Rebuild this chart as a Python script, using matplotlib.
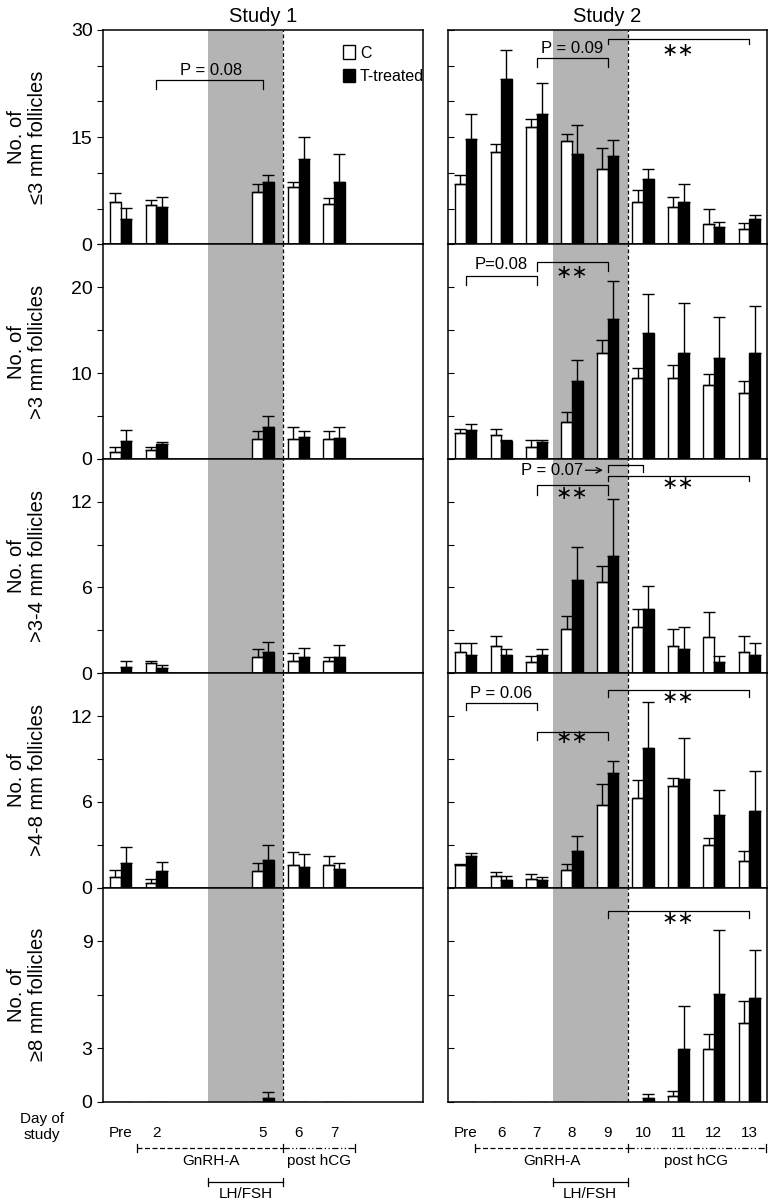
import numpy as np
import matplotlib
matplotlib.use('Agg')
import matplotlib.pyplot as plt
from matplotlib.patches import Patch

plt.rcParams['font.family'] = ['Liberation Sans', 'DejaVu Sans']

# days shown on the x axis of each study
days_s1 = ['Pre', '2', '5', '6', '7']
days_s2 = ['Pre', '6', '7', '8', '9', '10', '11', '12', '13']

row_labels = ['No. of\n≤3 mm follicles', 'No. of\n>3 mm follicles',
              'No. of\n>3-4 mm follicles', 'No. of\n>4-8 mm follicles',
              'No. of\n≥8 mm follicles']

# Study 1 means / SEM (C = control, T = T-treated)
s1_c = [[6.0, 5.5, 7.3, 8.1, 5.7],
        [0.8, 1.0, 2.3, 2.3, 2.3],
        [0.0, 0.7, 1.15, 0.85, 0.85],
        [0.75, 0.35, 1.15, 1.58, 1.58],
        [0, 0, 0, 0, 0]]
s1_c_err = [[1.2, 0.7, 1.2, 0.7, 0.8],
            [0.6, 0.4, 0.9, 1.4, 0.9],
            [0, 0.15, 0.55, 0.55, 0.25],
            [0.5, 0.28, 0.55, 0.9, 0.66],
            [0, 0, 0, 0, 0]]
s1_t = [[3.6, 5.2, 8.8, 12.0, 8.8],
        [2.1, 1.7, 3.7, 2.5, 2.4],
        [0.45, 0.33, 1.45, 1.1, 1.1],
        [1.7, 1.15, 1.93, 1.46, 1.3],
        [0, 0, 0.2, 0, 0]]
s1_t_err = [[1.5, 1.5, 0.9, 3.0, 3.9],
            [1.3, 0.3, 1.3, 0.7, 1.3],
            [0.4, 0.22, 0.7, 0.65, 0.9],
            [1.15, 0.62, 1.07, 0.87, 0.4],
            [0, 0, 0.35, 0, 0]]

# Study 2 means / SEM
s2_c = [[8.5, 12.9, 16.4, 14.4, 10.5, 5.9, 5.3, 2.9, 2.1],
        [3.0, 2.8, 1.4, 4.3, 12.3, 9.4, 9.4, 8.6, 7.7],
        [1.5, 1.9, 0.8, 3.1, 6.4, 3.2, 1.9, 2.5, 1.5],
        [1.57, 0.84, 0.63, 1.26, 5.77, 6.24, 7.1, 2.97, 1.85],
        [0, 0, 0, 0, 0, 0, 0.32, 2.97, 4.42]]
s2_c_err = [[1.2, 1.1, 1.2, 1.1, 3.0, 1.7, 1.4, 2.1, 0.9],
            [0.5, 0.7, 0.8, 1.1, 1.6, 1.2, 1.5, 1.3, 1.4],
            [0.6, 0.7, 0.4, 0.9, 1.1, 1.3, 1.2, 1.8, 1.1],
            [0.11, 0.26, 0.3, 0.42, 1.47, 1.26, 0.59, 0.51, 0.7],
            [0, 0, 0, 0, 0, 0, 0.29, 0.83, 1.24]]
s2_t = [[14.7, 23.2, 18.2, 12.7, 12.3, 9.2, 5.9, 2.4, 3.5],
        [3.3, 2.1, 2.0, 9.1, 16.3, 14.7, 12.3, 11.8, 12.3],
        [1.3, 1.3, 1.3, 6.5, 8.2, 4.5, 1.7, 0.8, 1.3],
        [2.2, 0.5, 0.51, 2.57, 8.0, 9.74, 7.57, 5.07, 5.37],
        [0, 0, 0, 0, 0, 0.2, 2.97, 6.05, 5.8]]
s2_t_err = [[3.5, 4.0, 4.4, 4.0, 2.3, 1.3, 2.6, 0.8, 0.6],
            [0.8, 0.1, 0.2, 2.4, 4.4, 4.5, 5.9, 4.7, 5.5],
            [0.8, 0.4, 0.4, 2.3, 4.0, 1.6, 1.5, 0.4, 0.8],
            [0.23, 0.3, 0.24, 1.03, 0.86, 3.23, 2.87, 1.75, 2.76],
            [0, 0, 0, 0, 0, 0.26, 2.43, 3.55, 2.7]]

# y axis of each row: top, tick step, labelled ticks
y_tops = [30, 25, 15, 15, 12]
y_steps = [5, 5, 3, 3, 3]
y_labelled = [[0, 15, 30], [0, 10, 20], [0, 6, 12], [0, 6, 12], [0, 3, 9]]

SHADE = (2.45, 4.57)   # LH/FSH window, in day slots
BW = 0.3


def slots(days, first):
    # Pre sits in slot 0, later days one slot per day
    return np.array([0 if d == 'Pre' else int(d) - first + 1 for d in days], float)


def bars(ax, x, c, ce, t, te):
    c, ce, t, te = map(np.asarray, (c, ce, t, te))
    ax.bar(x - BW / 2, c, BW, color='white', edgecolor='black', lw=1, zorder=2)
    ax.bar(x + BW / 2, t, BW, color='black', edgecolor='black', lw=1, zorder=2)
    for xx, m, e in ((x - BW / 2, c, ce), (x + BW / 2, t, te)):
        keep = (m > 0) | (e > 0)
        ax.errorbar(xx[keep], m[keep], yerr=[np.zeros(keep.sum()), e[keep]],
                    fmt='none', ecolor='black', elinewidth=1, capsize=4,
                    capthick=1, zorder=3)


def bracket(ax, x1, x2, y, drop, label=None, tx=None, ty=None, size=12):
    ax.plot([x1, x1, x2, x2], [y - drop, y, y, y - drop], color='black',
            lw=0.9, zorder=4)
    if label:
        ax.text(tx, ty, label, ha='center', va='center', fontsize=size, zorder=5)


fig = plt.figure(figsize=(7.68, 12), dpi=100)
W, H = 768., 1200.
top_px, row_px = 30., 214.4
x1 = slots(days_s1, 2)
x2 = slots(days_s2, 6)

axes = []
for r in range(5):
    b = (H - (top_px + (r + 1) * row_px)) / H
    axl = fig.add_axes([103 / W, b, 320 / W, row_px / H])
    axr = fig.add_axes([448 / W, b, 319 / W, row_px / H])
    bars(axl, x1, s1_c[r], s1_c_err[r], s1_t[r], s1_t_err[r])
    bars(axr, x2, s2_c[r], s2_c_err[r], s2_t[r], s2_t_err[r])
    ticks = np.arange(0, y_tops[r] + 0.01, y_steps[r])
    for ax in (axl, axr):
        ax.set_xlim(-0.5, 8.5)
        ax.set_ylim(0, y_tops[r])
        ax.axvspan(*SHADE, color='#b4b4b4', lw=0, zorder=0)
        ax.axvline(SHADE[1], color='black', lw=0.9, ls=(0, (3, 2)), zorder=3)
        ax.set_yticks(ticks)
        for s in ax.spines.values():
            s.set_linewidth(1.1)
    axl.set_yticklabels([('%d' % v) if v in y_labelled[r] else '' for v in ticks],
                        fontsize=14)
    axl.tick_params(axis='y', direction='out', length=4, width=0.8)
    axr.tick_params(axis='y', direction='in', length=4, width=0.8, labelleft=False)
    axl.text((27 - 103) / 320, 0.5, row_labels[r], transform=axl.transAxes,
             rotation=90, ha='center', va='center', fontsize=14.5,
             multialignment='center', linespacing=1.15)
    if r < 4:
        axl.set_xticks([])
        axr.set_xticks([])
    else:
        axl.set_xticks(x1)
        axl.set_xticklabels(days_s1, fontsize=11)
        axr.set_xticks(x2)
        axr.set_xticklabels(days_s2, fontsize=11)
        for ax in (axl, axr):
            ax.tick_params(axis='x', length=0, pad=17)
    axes.append((axl, axr))

axes[0][0].set_title('Study 1', fontsize=14.5, pad=6)
axes[0][1].set_title('Study 2', fontsize=14.5, pad=6)

axes[0][0].legend(handles=[Patch(facecolor='white', edgecolor='black', label='C'),
                           Patch(facecolor='black', edgecolor='black', label='T-treated')],
                  loc='upper left', bbox_to_anchor=(0.725, 0.965), frameon=False,
                  handlelength=0.75, handleheight=0.9, handletextpad=0.3,
                  labelspacing=0.5, borderpad=0, fontsize=11.5)

# significance brackets
star = '∗∗'
bracket(axes[0][0], 1, 4, 23.0, 1.3, 'P = 0.08', 2.55, 24.4)

bracket(axes[0][1], 2, 4, 26.1, 1.3, 'P = 0.09', 3.0, 27.4)
bracket(axes[0][1], 4, 8, 28.8, 0.8, star, 6.0, 27.0, 14)

bracket(axes[1][1], 0, 2, 21.3, 1.0, 'P=0.08', 1.0, 22.6)
bracket(axes[1][1], 2, 4, 23.0, 1.1, star, 3.0, 21.6, 14)

bracket(axes[2][1], 2, 4, 13.2, 0.7, star, 3.0, 12.5, 14)
bracket(axes[2][1], 4, 8, 13.8, 0.35, star, 6.0, 13.2, 14)
bracket(axes[2][1], 4, 5, 14.6, 0.5)
axes[2][1].annotate('', xy=(3.95, 14.2), xytext=(3.3, 14.2),
                    arrowprops=dict(arrowstyle='->', lw=0.9, color='black'))
axes[2][1].text(3.3, 14.2, 'P = 0.07', ha='right', va='center', fontsize=12)

bracket(axes[3][1], 0, 2, 12.9, 0.5, 'P = 0.06', 1.0, 13.6)
bracket(axes[3][1], 2, 4, 10.9, 0.6, star, 3.0, 10.4, 14)
bracket(axes[3][1], 4, 8, 13.8, 0.5, star, 6.0, 13.2, 14)

bracket(axes[4][1], 4, 8, 10.7, 0.4, star, 6.0, 10.2, 14)

# treatment periods under the bottom row
yl = -46 / row_px
yh = -80 / row_px
cap = 4 / row_px
for ax, start, end, gx, px in ((axes[4][0], 0.46, 6.6, 2.54, 5.58),
                               (axes[4][1], 0.26, 8.46, 2.43, 6.5)):
    tr = ax.get_xaxis_transform()
    kw = dict(color='black', lw=0.9, transform=tr, clip_on=False)
    ax.plot([start, SHADE[1]], [yl, yl], ls=(0, (4, 2)), **kw)
    ax.plot([SHADE[1], end], [yl, yl], ls=(0, (5, 2, 1, 2, 1, 2)), **kw)
    for xx in (start, SHADE[1], end):
        ax.plot([xx, xx], [yl - cap, yl + cap], **kw)
    ax.plot([SHADE[0], SHADE[1]], [yh, yh], **kw)
    for xx in SHADE:
        ax.plot([xx, xx], [yh - cap, yh + cap], **kw)
    ax.text(gx, yl - 13 / row_px, 'GnRH-A', transform=tr, ha='center',
            va='center', fontsize=11)
    ax.text(px, yl - 13 / row_px, 'post hCG', transform=tr, ha='center',
            va='center', fontsize=11)
    ax.text(sum(SHADE) / 2, yh - 12 / row_px, 'LH/FSH', transform=tr,
            ha='center', va='center', fontsize=11)

fig.text(42 / W, 1 - 1127 / H, 'Day of\nstudy', ha='center', va='center',
         fontsize=11, linespacing=1.2)

fig.savefig('out.png', dpi=100)
